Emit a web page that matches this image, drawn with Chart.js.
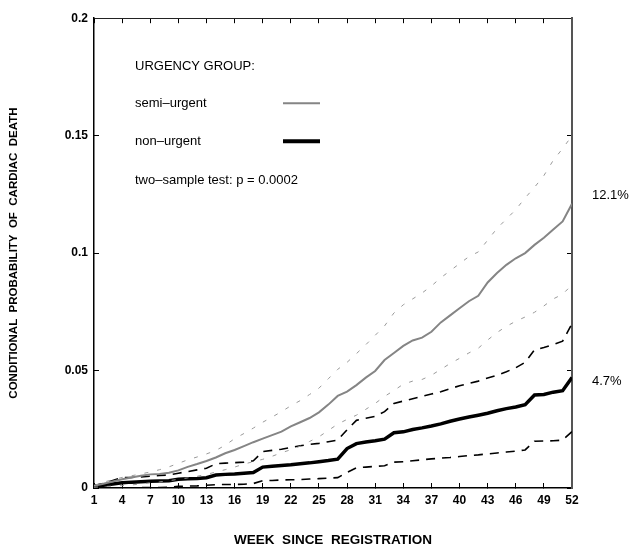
<!DOCTYPE html>
<html>
<head>
<meta charset="utf-8">
<script src="https://cdn.jsdelivr.net/npm/chart.js@4/dist/chart.umd.min.js"></script>
<style>
  html, body { margin: 0; padding: 0; background: #fff; }
  canvas { display: block; }
</style>
</head>
<body>
<canvas id="cardiacChart" width="629" height="547"></canvas>
<script>
// weeks since registration
const weeks = [
  1, 2, 3, 4, 5, 6, 7, 8, 9, 10, 11, 12, 13, 14, 15, 16, 17, 18, 19, 20, 21, 22, 23, 24, 25, 26,
  27, 28, 29, 30, 31, 32, 33, 34, 35, 36, 37, 38, 39, 40, 41, 42, 43, 44, 45, 46, 47, 48, 49, 50, 51, 52
];

// semi-urgent group: estimate and confidence band
const semiUrgent = [
  0.001, 0.0018, 0.0028, 0.0037, 0.0045, 0.0052, 0.0058, 0.006, 0.0065, 0.0075, 0.009, 0.0102, 0.0115,
  0.013, 0.0148, 0.0162, 0.0178, 0.0195, 0.021, 0.0225, 0.024, 0.0262, 0.028, 0.0298, 0.0322, 0.0355,
  0.0392, 0.041, 0.0438, 0.047, 0.0498, 0.0545, 0.0575, 0.0605, 0.0628, 0.064, 0.0665, 0.0705, 0.0735,
  0.0765, 0.0795, 0.0818, 0.0875, 0.0915, 0.095, 0.0978, 0.1, 0.1035, 0.1065, 0.11, 0.1135, 0.121
];
const semiUpper = [
  0.001, 0.0025, 0.0035, 0.0045, 0.0052, 0.006, 0.0068, 0.0078, 0.009, 0.0105, 0.012, 0.0132, 0.0145,
  0.016, 0.0182, 0.021, 0.0232, 0.0255, 0.028, 0.0302, 0.0325, 0.035, 0.0372, 0.0398, 0.0425, 0.0465,
  0.0505, 0.0535, 0.0572, 0.061, 0.065, 0.069, 0.0745, 0.078, 0.0805, 0.083, 0.086, 0.0895, 0.0925,
  0.0955, 0.0985, 0.1005, 0.1055, 0.1105, 0.1145, 0.1185, 0.1235, 0.128, 0.133, 0.1395, 0.1445, 0.15
];
const semiLower = [
  0.0003, 0.0006, 0.0008, 0.001, 0.0013, 0.0017, 0.0022, 0.0026, 0.0031, 0.0037, 0.0043, 0.005, 0.0058,
  0.0068, 0.0078, 0.0089, 0.0102, 0.0112, 0.0122, 0.0135, 0.015, 0.0163, 0.0178, 0.0198, 0.0218, 0.0245,
  0.0272, 0.0292, 0.031, 0.0335, 0.036, 0.039, 0.0415, 0.0442, 0.0455, 0.0462, 0.048, 0.0505, 0.053,
  0.0552, 0.0575, 0.0595, 0.063, 0.0662, 0.0688, 0.071, 0.0728, 0.0748, 0.0775, 0.0805, 0.0825, 0.0865
];

// non-urgent group: estimate and confidence band
const nonUrgent = [
  0.0007, 0.0012, 0.0017, 0.0022, 0.0025, 0.0027, 0.0029, 0.003, 0.0031, 0.0037, 0.0039, 0.004, 0.0044,
  0.0055, 0.0058, 0.006, 0.0063, 0.0066, 0.0089, 0.0093, 0.0096, 0.0099, 0.0103, 0.0107, 0.0112, 0.0117,
  0.0123, 0.0168, 0.0189, 0.0196, 0.0201, 0.0208, 0.0235, 0.0239, 0.0249, 0.0256, 0.0264, 0.0273, 0.0284,
  0.0294, 0.0302, 0.031, 0.0318, 0.0329, 0.0338, 0.0345, 0.0355, 0.0396, 0.0398, 0.0408, 0.0414, 0.047
];
const nonUpper = [
  0.001, 0.002, 0.0032, 0.0044, 0.0045, 0.0047, 0.005, 0.0053, 0.0056, 0.0063, 0.007, 0.0077, 0.0084,
  0.0103, 0.0106, 0.0108, 0.011, 0.0116, 0.0155, 0.016, 0.0165, 0.0172, 0.018, 0.0186, 0.019, 0.0197,
  0.0204, 0.0248, 0.0288, 0.0297, 0.0305, 0.0325, 0.036, 0.037, 0.038, 0.039, 0.04, 0.041, 0.0423,
  0.0435, 0.0445, 0.0455, 0.0468, 0.048, 0.0495, 0.0512, 0.0535, 0.0588, 0.0598, 0.061, 0.0625, 0.07
];
const nonLower = [
  0, 0, 0, 0.0001, 0.0001, 0.0002, 0.0002, 0.0002, 0.0003, 0.0007, 0.0008, 0.0009, 0.0012,
  0.0014, 0.0015, 0.0015, 0.0016, 0.0019, 0.0031, 0.0032, 0.0034, 0.0035, 0.0036, 0.0038, 0.004, 0.0042,
  0.0044, 0.0066, 0.0086, 0.0089, 0.0092, 0.0095, 0.011, 0.0112, 0.0116, 0.012, 0.0124, 0.0127, 0.013,
  0.0134, 0.0138, 0.0141, 0.0145, 0.0149, 0.0153, 0.0157, 0.0162, 0.0199, 0.02, 0.0201, 0.0204, 0.024
];

// 52-week figures printed at the right edge
const endLabels = [
  { text: '12.1%', value: 0.121, dy: -8 },
  { text: '4.7%', value: 0.047, dy: 4 }
];

const xTicks = { min: 1, max: 52, step: 3 };
const yTicks = { min: 0, max: 0.2, step: 0.05 };

const FONT = '"Liberation Sans", Arial, Helvetica, sans-serif';

const toPoints = arr => arr.map((v, i) => ({ x: weeks[i], y: v }));

function line(label, values, color, width, dash) {
  return {
    label,
    data: toPoints(values),
    borderColor: color,
    borderWidth: width,
    borderDash: dash || [],
    pointRadius: 0,
    tension: 0,
    fill: false
  };
}

// inward tick marks on every side, like a plotted frame
function frameGrid() {
  return { display: true, drawOnChartArea: false, drawTicks: true, tickLength: -5, color: '#000', lineWidth: 1 };
}

const annotations = {
  id: 'annotations',
  afterDraw(chart) {
    const { ctx, chartArea } = chart;
    const y = chart.scales.y;
    const left = chartArea.left, top = chartArea.top;

    ctx.save();
    ctx.fillStyle = '#000';
    ctx.textBaseline = 'middle';
    ctx.textAlign = 'left';
    ctx.font = '13px ' + FONT;
    ctx.fillText('URGENCY GROUP:', left + 41, top + 48);
    ctx.fillText('semi–urgent', left + 41, top + 85);
    ctx.fillText('non–urgent', left + 41, top + 123);
    ctx.fillText('two–sample test: p = 0.0002', left + 41, top + 162);

    // legend samples
    ctx.lineCap = 'butt';
    ctx.strokeStyle = '#858585';
    ctx.lineWidth = 2;
    ctx.beginPath();
    ctx.moveTo(left + 189, top + 85);
    ctx.lineTo(left + 226, top + 85);
    ctx.stroke();
    ctx.strokeStyle = '#000';
    ctx.lineWidth = 4;
    ctx.beginPath();
    ctx.moveTo(left + 189, top + 123);
    ctx.lineTo(left + 226, top + 123);
    ctx.stroke();

    endLabels.forEach(l => {
      ctx.fillText(l.text, chartArea.right + 20, y.getPixelForValue(l.value) + l.dy);
    });
    ctx.restore();
  }
};

const ctx = document.getElementById('cardiacChart').getContext('2d');
new Chart(ctx, {
  type: 'line',
  data: {
    datasets: [
      line('semi-urgent upper', semiUpper, '#9a9a9a', 1, [4, 9]),
      line('semi-urgent lower', semiLower, '#9a9a9a', 1, [4, 9]),
      line('semi-urgent', semiUrgent, '#858585', 2),
      line('non-urgent upper', nonUpper, '#000', 1.6, [9, 7]),
      line('non-urgent lower', nonLower, '#000', 1.6, [9, 7]),
      line('non-urgent', nonUrgent, '#000', 3.5)
    ]
  },
  options: {
    responsive: false,
    animation: false,
    layout: { padding: { top: 15, right: 57, left: 0, bottom: 0 } },
    plugins: { legend: { display: false }, tooltip: { enabled: false } },
    scales: {
      x: {
        type: 'linear',
        position: 'bottom',
        min: xTicks.min,
        max: xTicks.max,
        afterFit: s => { s.height = 59; },
        ticks: { stepSize: xTicks.step, padding: 10, color: '#000', font: { family: FONT, size: 12, weight: 'bold' } },
        grid: frameGrid(),
        border: { display: true, color: '#000', width: 1.5 },
        title: {
          display: true,
          text: 'WEEK  SINCE  REGISTRATION',
          color: '#000',
          align: 'center',
          padding: { top: 0, bottom: -1 },
          font: { family: FONT, size: 13.5, weight: 'bold' }
        }
      },
      x2: {
        type: 'linear',
        position: 'top',
        min: xTicks.min,
        max: xTicks.max,
        afterFit: s => { s.height = 0; },
        ticks: { display: false, stepSize: xTicks.step },
        grid: frameGrid(),
        border: { display: true, color: '#222', width: 1 }
      },
      y: {
        type: 'linear',
        position: 'left',
        min: yTicks.min,
        max: yTicks.max,
        afterFit: s => { s.width = 94; },
        ticks: {
          stepSize: yTicks.step,
          padding: 11,
          color: '#000',
          font: { family: FONT, size: 12, weight: 'bold' },
          callback: v => String(+v.toFixed(2))
        },
        grid: frameGrid(),
        border: { display: true, color: '#000', width: 1.5 },
        title: {
          display: true,
          text: 'CONDITIONAL  PROBABILITY  OF  CARDIAC  DEATH',
          color: '#000',
          padding: { top: 7, bottom: 0 },
          font: { family: FONT, size: 11.5, weight: 'bold' }
        }
      },
      y2: {
        type: 'linear',
        position: 'right',
        min: yTicks.min,
        max: yTicks.max,
        afterFit: s => { s.width = 0; },
        ticks: { display: false, stepSize: yTicks.step },
        grid: frameGrid(),
        border: { display: true, color: '#555', width: 2 }
      }
    }
  },
  plugins: [annotations]
});
</script>
</body>
</html>
